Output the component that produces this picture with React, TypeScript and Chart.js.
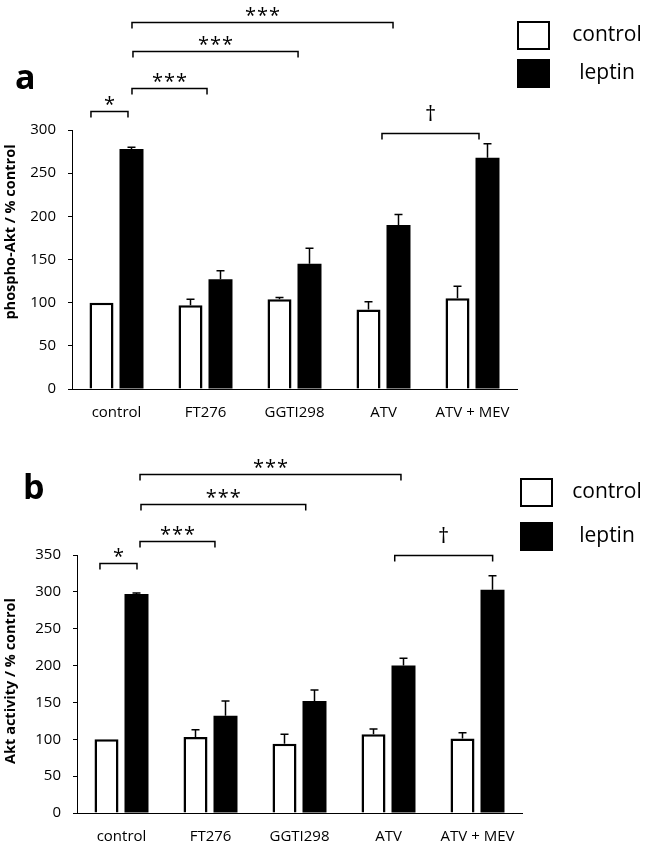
import React, { useEffect, useRef } from 'react';
import { Chart, registerables } from 'chart.js';
Chart.register(...registerables);

const categories = ['control', 'FT276', 'GGTI298', 'ATV', 'ATV + MEV'];
const seriesLabels = ['control', 'leptin'];

// panel a: phospho-Akt
const aControl = [100, 97, 104, 92, 105];
const aControlErr = [0, 7, 2, 9, 14];
const aLeptin = [278, 127, 145, 190, 268];
const aLeptinErr = [2, 10, 18, 12, 16];
const aTicks = { min: 0, max: 300, step: 50 };
// brackets: from/to in category units, y in data units
const aBrackets = [
  { from: -0.287, to: 0.129, y: 322, label: '*' },
  { from: 0.174, to: 1.017, y: 349, label: '***' },
  { from: 0.185, to: 2.04, y: 391, label: '***' },
  { from: 0.174, to: 3.107, y: 425, label: '***' },
  { from: 2.983, to: 4.073, y: 296, label: '†' },
];

// panel b: Akt activity
const bControl = [100, 103, 94, 107, 101];
const bControlErr = [0, 10, 13, 7, 8];
const bLeptin = [297, 132, 152, 200, 303];
const bLeptinErr = [1.5, 20, 15, 10, 19];
const bTicks = { min: 0, max: 350, step: 50 };
const bBrackets = [
  { from: -0.242, to: 0.174, y: 339, label: '*' },
  { from: 0.208, to: 1.05, y: 369, label: '***' },
  { from: 0.219, to: 2.07, y: 419, label: '***' },
  { from: 0.208, to: 3.14, y: 460, label: '***' },
  { from: 3.07, to: 4.17, y: 350, label: '†' },
];

const FONT = '"Open Sans", sans-serif';

const overlayPlugin = {
  id: 'overlay',
  afterDatasetsDraw(chart: any, _args: any, opts: any) {
    const ctx = chart.ctx;
    const xs = chart.scales.x;
    const ys = chart.scales.y;
    ctx.save();
    ctx.strokeStyle = '#000';
    ctx.fillStyle = '#000';
    // error bars
    ctx.lineWidth = 1.5;
    (opts.errors as number[][]).forEach((errs, di) => {
      const meta = chart.getDatasetMeta(di);
      meta.data.forEach((el: any, i: number) => {
        const e = errs[i];
        if (!e) return;
        const v = chart.data.datasets[di].data[i];
        const top = ys.getPixelForValue(v + e);
        ctx.beginPath();
        ctx.moveTo(el.x, el.y);
        ctx.lineTo(el.x, top);
        ctx.moveTo(el.x - 4, top);
        ctx.lineTo(el.x + 4, top);
        ctx.stroke();
      });
    });
    // brackets
    const x0 = xs.getPixelForValue(0);
    const cw = xs.getPixelForValue(1) - x0;
    const px = (f: number) => x0 + f * cw;
    ctx.lineWidth = 1.5;
    (opts.brackets as any[]).forEach((b) => {
      const xa = px(b.from);
      const xb = px(b.to);
      const yy = Math.round(ys.getPixelForValue(b.y)) + 0.5;
      ctx.beginPath();
      ctx.moveTo(xa, yy + 6);
      ctx.lineTo(xa, yy);
      ctx.lineTo(xb, yy);
      ctx.lineTo(xb, yy + 6);
      ctx.stroke();
      const mx = (xa + xb) / 2;
      ctx.textAlign = 'center';
      ctx.textBaseline = 'middle';
      if (b.label === '†') {
        ctx.font = `22px ${FONT}`;
        ctx.fillText('†', mx, yy - 19);
      } else {
        ctx.font = `20px ${FONT}`;
        const n = b.label.length;
        for (let k = 0; k < n; k++) {
          ctx.fillText('*', mx + (k - (n - 1) / 2) * 12, yy - 6);
        }
      }
    });
    // legend
    const lg = opts.legend;
    chart.data.datasets.forEach((ds: any, i: number) => {
      const by = lg.y[i];
      ctx.fillStyle = ds.backgroundColor;
      ctx.fillRect(lg.x, by, 33, 29);
      ctx.lineWidth = 2;
      ctx.strokeStyle = '#000';
      ctx.strokeRect(lg.x + 1, by + 1, 31, 27);
      ctx.fillStyle = '#000';
      ctx.font = `21px ${FONT}`;
      ctx.textAlign = 'center';
      ctx.textBaseline = 'middle';
      ctx.fillText(ds.label, lg.tx, by + 14);
    });
    // panel letter
    ctx.font = `bold 34px ${FONT}`;
    ctx.textAlign = 'left';
    ctx.textBaseline = 'middle';
    ctx.fillText(opts.letter.text, opts.letter.x, opts.letter.y);
    // y-axis title
    ctx.save();
    ctx.translate(opts.yTitle.x, opts.yTitle.y);
    ctx.rotate(-Math.PI / 2);
    ctx.font = `bold 14.5px ${FONT}`;
    ctx.textAlign = 'center';
    ctx.textBaseline = 'middle';
    ctx.fillText(opts.yTitle.text, 0, 0);
    ctx.restore();
    ctx.restore();
  },
};

function Panel(props: any) {
  const ref = useRef<HTMLCanvasElement>(null);
  useEffect(() => {
    const p = props;
    const chart = new Chart(ref.current as HTMLCanvasElement, {
      type: 'bar',
      data: {
        labels: categories,
        datasets: [
          {
            label: seriesLabels[0],
            data: p.control,
            backgroundColor: '#ffffff',
            borderColor: '#000000',
            borderWidth: 2.5,
            barPercentage: 0.8,
            categoryPercentage: 0.674,
          },
          {
            label: seriesLabels[1],
            data: p.leptin,
            backgroundColor: '#000000',
            borderColor: '#000000',
            borderWidth: 0,
            barPercentage: 0.8,
            categoryPercentage: 0.674,
          },
        ],
      },
      plugins: [overlayPlugin as any],
      options: {
        responsive: false,
        animation: false,
        devicePixelRatio: 1,
        layout: { padding: { left: 0, top: p.top, right: p.right, bottom: 0 } },
        plugins: {
          legend: { display: false },
          tooltip: { enabled: false },
          overlay: {
            errors: [p.controlErr, p.leptinErr],
            brackets: p.brackets,
            legend: p.legend,
            letter: p.letter,
            yTitle: p.yTitle,
          },
        } as any,
        scales: {
          x: {
            grid: { display: false, drawTicks: false },
            border: { display: true, color: '#000', width: 1 },
            ticks: { color: '#000', font: { family: FONT, size: 15 }, padding: 15 },
            afterFit: (s: any) => { s.height = p.xHeight; },
          },
          y: {
            min: p.ticks.min,
            max: p.ticks.max,
            ticks: { stepSize: p.ticks.step, color: '#000', font: { family: FONT, size: 15 }, padding: 12 },
            grid: { drawOnChartArea: false, drawTicks: true, tickLength: 4, color: '#000' },
            border: { display: true, color: '#000', width: 1 },
            afterFit: (s: any) => { s.width = p.yWidth; },
          },
        },
      },
    });
    return () => chart.destroy();
  }, []);
  return (
    <div style={{ position: 'absolute', left: 0, top: props.offset, width: 646, height: props.height }}>
      <canvas ref={ref} width={646} height={props.height} style={{ display: 'block' }} />
    </div>
  );
}

export default function App() {
  return (
    <div style={{ position: 'absolute', left: 0, top: 0, width: 646, height: 855, background: '#fff' }}>
      <Panel
        offset={0}
        height={427}
        control={aControl}
        leptin={aLeptin}
        controlErr={aControlErr}
        leptinErr={aLeptinErr}
        ticks={aTicks}
        brackets={aBrackets}
        yTitle={{ text: 'phospho-Akt / % control', x: 11, y: 232 }}
        top={130}
        right={129}
        yWidth={72}
        xHeight={38}
        legend={{ x: 517, y: [21, 59], tx: 607 }}
        letter={{ text: 'a', x: 15, y: 79 }}
      />
      <Panel
        offset={427}
        height={428}
        control={bControl}
        leptin={bLeptin}
        controlErr={bControlErr}
        leptinErr={bLeptinErr}
        ticks={bTicks}
        brackets={bBrackets}
        yTitle={{ text: 'Akt activity / % control', x: 11, y: 254 }}
        top={128}
        right={124}
        yWidth={77}
        xHeight={42}
        legend={{ x: 520, y: [51, 95], tx: 607 }}
        letter={{ text: 'b', x: 23, y: 62 }}
      />
    </div>
  );
}
